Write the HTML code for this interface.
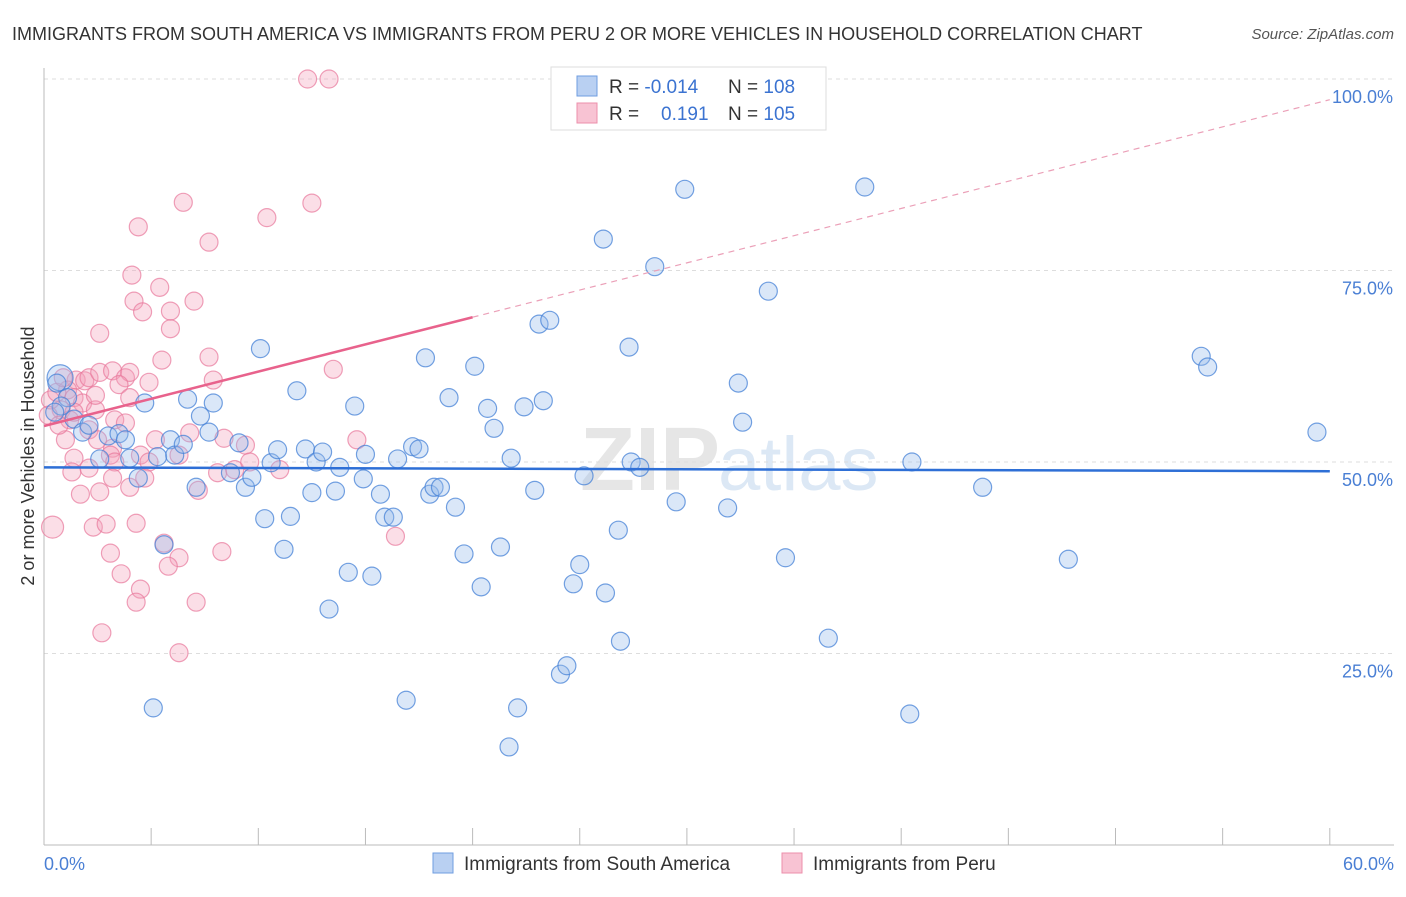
<!DOCTYPE html>
<html><head><meta charset="utf-8"><style>
body{margin:0;background:#fff;font-family:"Liberation Sans",sans-serif;}
svg text{font-family:"Liberation Sans",sans-serif;}
</style></head><body>
<svg id="chart" width="1406" height="892">
<text x="12" y="40" font-size="18" fill="#333">IMMIGRANTS FROM SOUTH AMERICA VS IMMIGRANTS FROM PERU 2 OR MORE VEHICLES IN HOUSEHOLD CORRELATION CHART</text>
<text x="1394" y="39" font-size="15" fill="#555" text-anchor="end" font-style="italic">Source: ZipAtlas.com</text>
<text x="720" y="490" font-size="90" fill="#e6e6e6" text-anchor="end" font-family="Liberation Serif" font-weight="bold">ZIP</text>
<text x="718" y="490" font-size="76" fill="#dce8f5">atlas</text>
<g id="grid"></g><g id="axes"></g><g id="marks"></g>
<text transform="translate(34,456) rotate(-90)" font-size="18" fill="#333" text-anchor="middle">2 or more Vehicles in Household</text>
<text x="44" y="870" font-size="18" fill="#4a7fd4">0.0%</text>
<text x="1394" y="870" font-size="18" fill="#4a7fd4" text-anchor="end">60.0%</text>
<g>
<rect x="551" y="67" width="275" height="63" fill="#fff" stroke="#ddd"/>
<rect x="577" y="76" width="20" height="20" fill="#b9d0f2" stroke="#6f9ee0"/>
<rect x="577" y="103" width="20" height="20" fill="#f8c3d3" stroke="#ec8fab"/>
<text x="609" y="93" font-size="19" fill="#333">R = <tspan fill="#3b73d1">-0.014</tspan></text>
<text x="728" y="93" font-size="19" fill="#333">N = <tspan fill="#3b73d1">108</tspan></text>
<text x="609" y="120" font-size="19" fill="#333">R = </text><text x="661" y="120" font-size="19" fill="#3b73d1">0.191</text>
<text x="728" y="120" font-size="19" fill="#333">N = <tspan fill="#3b73d1">105</tspan></text>
</g>
<g>
<rect x="433" y="853" width="20" height="20" fill="#b9d0f2" stroke="#6f9ee0"/>
<text x="464" y="870" font-size="19" fill="#333">Immigrants from South America</text>
<rect x="782" y="853" width="20" height="20" fill="#f8c3d3" stroke="#ec8fab"/>
<text x="813" y="870" font-size="19" fill="#333">Immigrants from Peru</text>
</g>
</svg>
<script>
const blueX=[0.75,0.6,4.7,5.1,5.6,5.3,5.9,6.1,6.5,6.7,7.1,7.3,7.7,7.9,8.7,9.1,9.4,9.7,10.1,10.3,10.6,10.9,11.2,11.5,11.8,12.2,12.5,12.7,13.0,13.3,13.6,13.8,14.2,14.5,14.9,15.0,15.3,15.7,15.9,16.3,16.5,16.9,17.2,17.5,17.8,18.0,18.2,18.5,18.9,19.2,19.6,20.1,20.4,20.7,21.0,21.3,21.7,21.8,22.1,22.4,22.9,23.1,23.3,23.6,24.1,24.4,24.7,25.0,25.2,26.1,26.2,26.8,26.9,27.3,27.4,27.8,28.5,29.5,29.9,31.9,32.4,32.6,33.8,34.6,36.6,38.3,40.4,40.5,43.8,47.8,54.0,54.3,59.4,1.1,1.4,1.8,2.1,2.6,3.0,3.5,3.8,4.0,4.4,0.8,0.5];
const blueY=[61.0,60.3,57.7,17.9,39.2,50.7,52.9,50.9,52.3,58.2,46.7,56.0,53.9,57.7,48.6,52.5,46.7,48.0,64.8,42.6,49.9,51.6,38.6,42.9,59.3,51.7,46.0,50.0,51.3,30.8,46.2,49.3,35.6,57.3,47.8,51.0,35.1,45.8,42.8,42.8,50.4,18.9,52.0,51.7,63.6,45.8,46.7,46.7,58.4,44.1,38.0,62.5,33.7,57.0,54.4,38.9,12.8,50.5,17.9,57.2,46.3,68.0,58.0,68.5,22.3,23.4,34.1,36.6,48.2,79.1,32.9,41.1,26.6,65.0,50.0,49.3,75.5,44.8,85.6,44.0,60.3,55.2,72.3,37.5,27.0,85.9,17.1,50.0,46.7,37.3,63.8,62.4,53.9,58.4,55.6,53.9,54.8,50.4,53.4,53.7,52.9,50.5,47.9,57.3,56.5];
const pinkX=[12.3,13.3,6.5,12.5,4.4,10.4,7.7,4.1,5.4,4.2,7.0,4.6,5.9,5.9,2.6,7.7,5.5,13.5,7.9,1.5,1.9,2.1,2.6,3.2,3.8,4.0,4.9,3.5,1.1,1.4,1.8,4.0,0.8,2.4,3.3,1.2,3.8,2.1,5.2,2.5,1.0,3.2,3.1,4.5,6.8,8.4,9.4,6.3,1.4,2.1,3.3,4.9,8.1,8.9,9.6,11.0,14.6,16.4,1.3,1.7,2.6,3.2,4.0,4.7,7.2,0.4,2.3,2.9,4.3,3.1,5.6,6.3,5.8,8.3,3.6,4.5,4.3,7.1,2.7,6.3,0.3,0.2,0.6,0.9,2.4,0.7,1.4];
const pinkY=[100,100,83.9,83.8,80.7,81.9,78.7,74.4,72.8,71.0,71.0,69.6,69.7,67.4,66.8,63.7,63.3,62.1,60.7,60.7,60.6,61.0,61.7,61.9,61.0,61.7,60.4,60.1,59.4,58.4,57.7,58.4,56.8,56.8,55.5,55.5,55.1,54.2,52.9,52.9,52.9,51.8,50.9,50.9,53.8,53.1,52.2,50.9,50.5,49.2,50.0,50.0,48.6,49.0,50.0,49.0,52.9,40.3,48.7,45.8,46.1,47.9,46.7,47.9,46.3,41.5,41.5,41.9,42.0,38.1,39.4,37.5,36.4,38.3,35.4,33.4,31.7,31.7,27.7,25.1,58.1,56.1,59.1,61.0,58.7,54.8,56.5];
const blueTrend=[49.3,48.8];
const pinkTrend=[54.7,97.3];
const pinkSolidEnd=20;
const yTicks=[25,50,75,100];
const xTicks=[0,5,10,15,20,25,30,35,40,45,50,55,60];

const sx=v=>44+v*21.43, sy=v=>845-v*7.66;
const NS='http://www.w3.org/2000/svg';
function mk(tag,attrs,parent){const e=document.createElementNS(NS,tag);for(const k in attrs)e.setAttribute(k,attrs[k]);parent.appendChild(e);return e;}
const grid=document.getElementById('grid'),axes=document.getElementById('axes'),marks=document.getElementById('marks'),svg=document.getElementById('chart');
yTicks.forEach(t=>{
 const l=mk('line',{x1:44,x2:1394,y1:sy(t),y2:sy(t),stroke:'#ddd','stroke-dasharray':'4,4'},grid);
 
 
 const tx=mk('text',{x:1393,y:sy(t)+24,'font-size':18,fill:'#4a7fd4','text-anchor':'end'},svg);
 tx.textContent=t.toFixed(1)+'%';
 
 
});
const ya=mk('line',{x1:44,x2:44,y1:68,y2:845,stroke:'#bbb'},axes);


const xa=mk('line',{x1:44,x2:1394,y1:845,y2:845,stroke:'#bbb'},axes);


xTicks.forEach(t=>{
 const l=mk('line',{x1:sx(t),x2:sx(t),y1:828,y2:845,stroke:'#bbb'},axes);
 
 
});
pinkX.forEach((x,i)=>{
 const c=mk('circle',{cx:sx(x),cy:sy(pinkY[i]),r:(i===65?11:9),fill:'rgba(244,160,186,0.35)',stroke:'rgba(232,120,155,0.7)','stroke-width':1.2},marks);
 
 
});
blueX.forEach((x,i)=>{
 const c=mk('circle',{cx:sx(x),cy:sy(blueY[i]),r:(i===0?13:9),fill:'rgba(150,186,235,0.35)',stroke:'rgba(70,130,215,0.75)','stroke-width':1.2},marks);
 
 
});
const pv=x=>pinkTrend[0]+(pinkTrend[1]-pinkTrend[0])*x/60;
const pl1=mk('line',{x1:sx(0),y1:sy(pv(0)),x2:sx(pinkSolidEnd),y2:sy(pv(pinkSolidEnd)),stroke:'#e8628c','stroke-width':2.5},marks);


const pl2=mk('line',{x1:sx(pinkSolidEnd),y1:sy(pv(pinkSolidEnd)),x2:sx(60),y2:sy(pv(60)),stroke:'#eba0b8','stroke-width':1.2,'stroke-dasharray':'6,5'},marks);


const bl=mk('line',{x1:sx(0),y1:sy(blueTrend[0]),x2:sx(60),y2:sy(blueTrend[1]),stroke:'#2e6fd6','stroke-width':2.5},marks);


</script>
</body></html>
